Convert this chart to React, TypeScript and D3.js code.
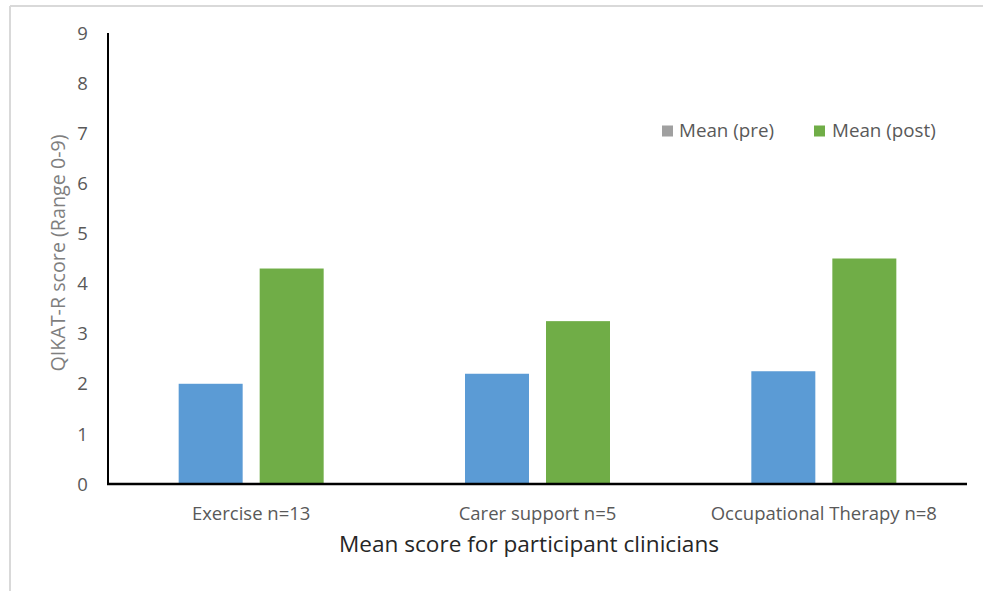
import React from "react";
import * as d3 from "d3";

const categories = ["Exercise n=13", "Carer support n=5", "Occupational Therapy n=8"];
const seriesNames = ["Mean (pre)", "Mean (post)"];
const preValues = [2.0, 2.2, 2.25];
const postValues = [4.3, 3.25, 4.5];
const yTicks = [0, 1, 2, 3, 4, 5, 6, 7, 8, 9];
const barColors = ["#5B9BD5", "#70AD47"];
const legendColors = ["#A0A0A0", "#70AD47"];

const W = 983;
const H = 591;
const FONT = "'Open Sans', sans-serif";

export default function App() {
  const left = 108;
  const right = 967;
  const top = 33;
  const bottom = 484;

  const x0 = d3.scaleBand<string>().domain(categories).range([left, right]).padding(0);
  const bw = x0.bandwidth();
  const pairW = 145;
  const x1 = d3
    .scaleBand<string>()
    .domain(seriesNames)
    .range([(bw - pairW) / 2, (bw + pairW) / 2])
    .paddingInner(0.21)
    .paddingOuter(0);
  const y = d3.scaleLinear().domain([0, 9]).range([bottom, top]);

  const series = [preValues, postValues];

  return (
    <svg
      width={W}
      height={H}
      style={{ position: "absolute", left: 0, top: 0, background: "#fff" }}
      fontFamily={FONT}
    >
      <rect x={0} y={0} width={W} height={H} fill="#fff" />
      {/* frame */}
      <line x1={10} y1={6} x2={983} y2={6} stroke="#D9D9D9" strokeWidth={2} />
      <line x1={10} y1={6} x2={10} y2={591} stroke="#D9D9D9" strokeWidth={2} />

      {/* bars */}
      {categories.map((c, ci) =>
        seriesNames.map((s, si) => (
          <rect
            key={c + s}
            x={(x0(c) ?? 0) + (x1(s) ?? 0)}
            y={y(series[si][ci])}
            width={x1.bandwidth()}
            height={bottom - y(series[si][ci])}
            fill={barColors[si]}
          />
        ))
      )}

      {/* axes */}
      <line x1={left} y1={top} x2={left} y2={bottom} stroke="#000" strokeWidth={2} />
      <line x1={left - 1} y1={bottom} x2={right} y2={bottom} stroke="#000" strokeWidth={2.5} />

      {yTicks.map((t) => (
        <text
          key={t}
          x={82.5}
          y={y(t)}
          dy="0.36em"
          textAnchor="middle"
          fontSize={18.5}
          fill="#595959"
        >
          {t}
        </text>
      ))}

      {categories.map((c) => (
        <text
          key={c}
          x={(x0(c) ?? 0) + bw / 2}
          y={520}
          textAnchor="middle"
          fontSize={18.5}
          fill="#595959"
        >
          {c}
        </text>
      ))}

      <text x={529} y={552} textAnchor="middle" fontSize={22.6} fill="#262626">
        Mean score for participant clinicians
      </text>

      <text
        transform={`translate(58.5,253) rotate(-90)`}
        dy="0.35em"
        textAnchor="middle"
        fontSize={19.7}
        fill="#7F7F7F"
      >
        QIKAT-R score (Range 0-9)
      </text>

      {/* legend */}
      {seriesNames.map((s, i) => {
        const lx = [662, 814][i];
        const tx = [679, 832][i];
        return (
          <g key={s}>
            <rect x={lx} y={125.5} width={11} height={11} fill={legendColors[i]} />
            <text x={tx} y={137} fontSize={18.8} fill="#595959">
              {s}
            </text>
          </g>
        );
      })}
    </svg>
  );
}
